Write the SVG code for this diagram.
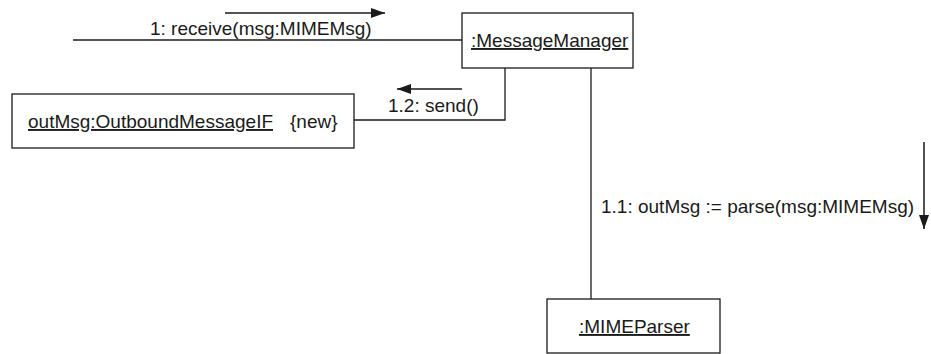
<svg xmlns="http://www.w3.org/2000/svg" width="931" height="354" viewBox="0 0 931 354">
  <style>
    .box { fill: #ffffff; stroke: #1a1a1a; stroke-width: 1.3; }
    .link { fill: none; stroke: #1a1a1a; stroke-width: 1.3; }
    .msg { fill: none; stroke: #1a1a1a; stroke-width: 1.5; }
    text { font-family: "Liberation Sans", Arial, sans-serif; font-size: 19px; fill: #1a1a1a; }
    .obj { text-decoration: underline; }
  </style>
  <defs>
    <marker id="head" viewBox="0 0 14 10" refX="14" refY="5" markerWidth="14" markerHeight="10" markerUnits="userSpaceOnUse" orient="auto">
      <path d="M0,0 L14,5 L0,10 Z" fill="#1a1a1a"/>
    </marker>
  </defs>

  <g id="connectors">
    <!-- links between objects -->
    <line class="link" x1="73" y1="40" x2="462" y2="40"/>
    <polyline class="link" points="505,68 505,120 354,120"/>
    <line class="link" x1="591" y1="68" x2="591" y2="299"/>
    <!-- message direction arrows -->
    <line class="msg" x1="225" y1="13" x2="385" y2="13" marker-end="url(#head)"/>
    <line class="msg" x1="462" y1="89" x2="397" y2="89" marker-end="url(#head)"/>
    <line class="msg" x1="924" y1="142" x2="924" y2="229" marker-end="url(#head)"/>
    <!-- message labels -->
    <text x="150" y="35">1: receive(msg:MIMEMsg)</text>
    <text x="388" y="112">1.2: send()</text>
    <text x="601" y="213">1.1: outMsg := parse(msg:MIMEMsg)</text>
  </g>

  <g id="messageManager">
    <rect class="box" x="462" y="13" width="171" height="55"/>
    <text class="obj" x="471" y="47">:MessageManager</text>
  </g>

  <g id="outMsg">
    <rect class="box" x="12" y="94" width="342" height="54"/>
    <text class="obj" x="28" y="128">outMsg:OutboundMessageIF</text>
    <text x="290" y="128">{new}</text>
  </g>

  <g id="mimeParser">
    <rect class="box" x="547" y="299" width="173" height="54"/>
    <text class="obj" x="579" y="333">:MIMEParser</text>
  </g>
</svg>
